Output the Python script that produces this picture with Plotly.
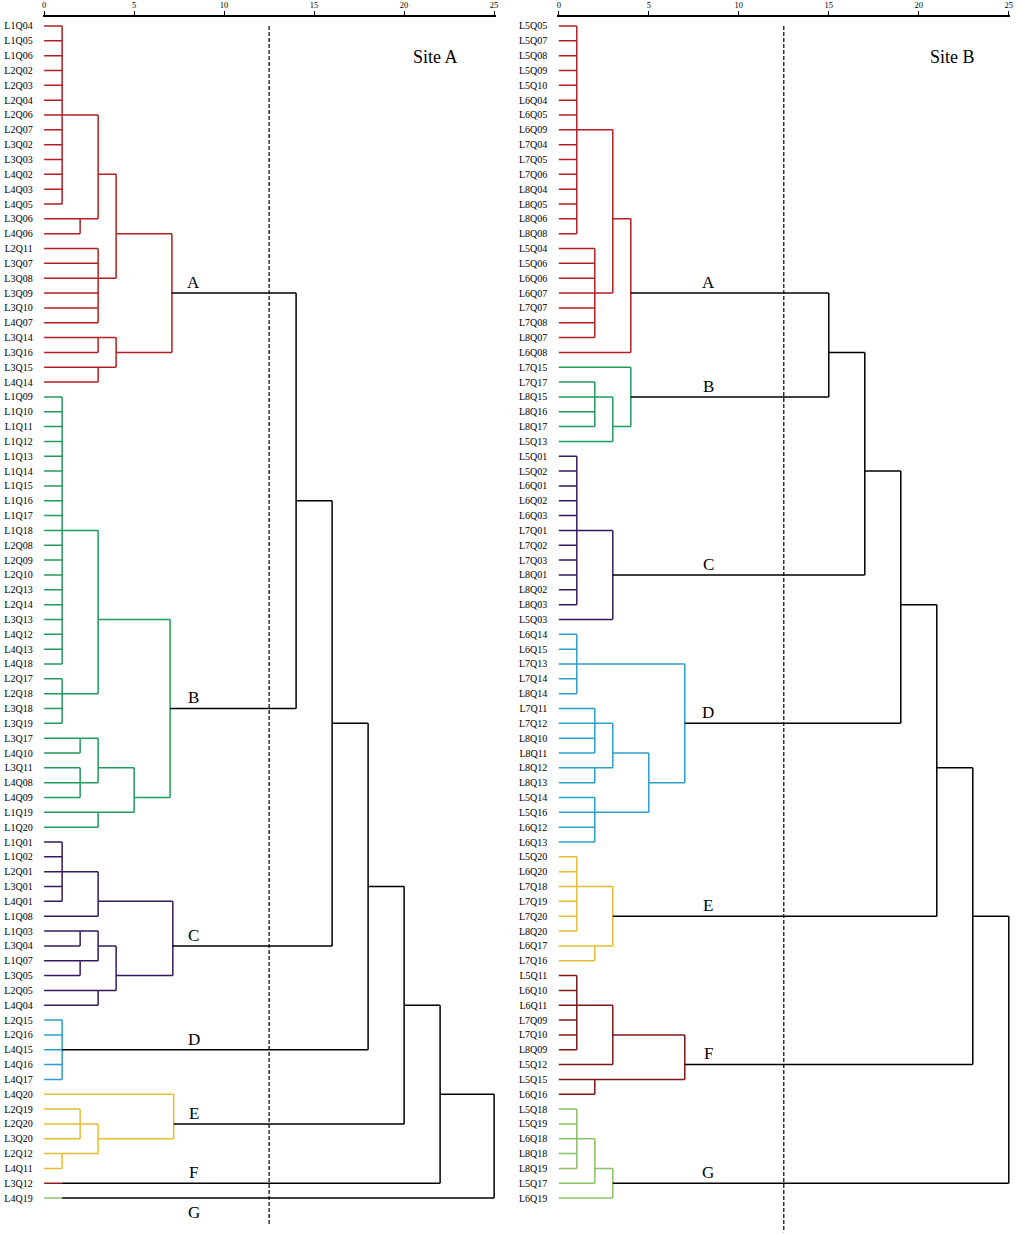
import plotly.graph_objects as go

SERIF = "Liberation Serif"

# ---------------- Site A data ----------------
siteA_leaves = [
    "L1Q04", "L1Q05", "L1Q06", "L2Q02", "L2Q03", "L2Q04", "L2Q06", "L2Q07", "L3Q02", "L3Q03",
    "L4Q02", "L4Q03", "L4Q05", "L3Q06", "L4Q06", "L2Q11", "L3Q07", "L3Q08", "L3Q09", "L3Q10",
    "L4Q07", "L3Q14", "L3Q16", "L3Q15", "L4Q14",
    "L1Q09", "L1Q10", "L1Q11", "L1Q12", "L1Q13", "L1Q14", "L1Q15", "L1Q16", "L1Q17", "L1Q18",
    "L2Q08", "L2Q09", "L2Q10", "L2Q13", "L2Q14", "L3Q13", "L4Q12", "L4Q13", "L4Q18", "L2Q17",
    "L2Q18", "L3Q18", "L3Q19", "L3Q17", "L4Q10", "L3Q11", "L4Q08", "L4Q09", "L1Q19", "L1Q20",
    "L1Q01", "L1Q02", "L2Q01", "L3Q01", "L4Q01", "L1Q08", "L1Q03", "L3Q04", "L1Q07", "L3Q05",
    "L2Q05", "L4Q04",
    "L2Q15", "L2Q16", "L4Q15", "L4Q16", "L4Q17",
    "L4Q20", "L2Q19", "L2Q20", "L3Q20", "L2Q12", "L4Q11",
    "L3Q12", "L4Q19",
]

siteA_nodes = ["a1", "a2", "a3", "a4", "a5", "a6", "a7", "a8", "A",
               "b1", "b2", "b3", "b4", "b5", "b6", "b7", "b8", "B",
               "c1", "c2", "c3", "c4", "c5", "c6", "c7", "C",
               "D", "e2", "e3", "e4", "E", "F", "G",
               "AB", "ABC", "ABCD", "ABCDE", "ABCDEF", "ALL"]

siteA_children = [
    ["L1Q04", "L1Q05", "L1Q06", "L2Q02", "L2Q03", "L2Q04", "L2Q06", "L2Q07", "L3Q02", "L3Q03", "L4Q02", "L4Q03", "L4Q05"],
    ["L3Q06", "L4Q06"],
    ["a1", "a2"],
    ["L2Q11", "L3Q07", "L3Q08", "L3Q09", "L3Q10", "L4Q07"],
    ["a3", "a4"],
    ["L3Q14", "L3Q16"],
    ["L3Q15", "L4Q14"],
    ["a6", "a7"],
    ["a5", "a8"],
    ["L1Q09", "L1Q10", "L1Q11", "L1Q12", "L1Q13", "L1Q14", "L1Q15", "L1Q16", "L1Q17", "L1Q18",
     "L2Q08", "L2Q09", "L2Q10", "L2Q13", "L2Q14", "L3Q13", "L4Q12", "L4Q13", "L4Q18"],
    ["L2Q17", "L2Q18", "L3Q18", "L3Q19"],
    ["b1", "b2"],
    ["L3Q17", "L4Q10"],
    ["L3Q11", "L4Q08", "L4Q09"],
    ["b4", "b5"],
    ["L1Q19", "L1Q20"],
    ["b6", "b7"],
    ["b3", "b8"],
    ["L1Q01", "L1Q02", "L2Q01", "L3Q01", "L4Q01"],
    ["c1", "L1Q08"],
    ["L1Q03", "L3Q04"],
    ["L1Q07", "L3Q05"],
    ["c3", "c4"],
    ["L2Q05", "L4Q04"],
    ["c5", "c6"],
    ["c2", "c7"],
    ["L2Q15", "L2Q16", "L4Q15", "L4Q16", "L4Q17"],
    ["L2Q19", "L2Q20", "L3Q20"],
    ["L2Q12", "L4Q11"],
    ["e2", "e3"],
    ["L4Q20", "e4"],
    ["L3Q12"],
    ["L4Q19"],
    ["A", "B"],
    ["AB", "C"],
    ["ABC", "D"],
    ["ABCD", "E"],
    ["ABCDE", "F"],
    ["ABCDEF", "G"],
]

siteA_heights = [1.0, 2.0, 3.0, 3.0, 4.0, 3.0, 3.0, 4.0, 7.1,
                 1.0, 1.0, 3.0, 2.0, 2.0, 3.0, 3.0, 5.0, 7.0,
                 1.0, 3.0, 2.0, 2.0, 3.0, 3.0, 4.0, 7.15,
                 1.0, 2.0, 1.0, 3.0, 7.2, 1.0, 1.0,
                 14.0, 16.0, 18.0, 20.0, 22.0, 25.0]

# ---------------- Site B data ----------------
siteB_leaves = [
    "L5Q05", "L5Q07", "L5Q08", "L5Q09", "L5Q10", "L6Q04", "L6Q05", "L6Q09", "L7Q04", "L7Q05",
    "L7Q06", "L8Q04", "L8Q05", "L8Q06", "L8Q08", "L5Q04", "L5Q06", "L6Q06", "L6Q07", "L7Q07",
    "L7Q08", "L8Q07", "L6Q08",
    "L7Q15", "L7Q17", "L8Q15", "L8Q16", "L8Q17", "L5Q13",
    "L5Q01", "L5Q02", "L6Q01", "L6Q02", "L6Q03", "L7Q01", "L7Q02", "L7Q03", "L8Q01", "L8Q02",
    "L8Q03", "L5Q03",
    "L6Q14", "L6Q15", "L7Q13", "L7Q14", "L8Q14", "L7Q11", "L7Q12", "L8Q10", "L8Q11", "L8Q12",
    "L8Q13", "L5Q14", "L5Q16", "L6Q12", "L6Q13",
    "L5Q20", "L6Q20", "L7Q18", "L7Q19", "L7Q20", "L8Q20", "L6Q17", "L7Q16",
    "L5Q11", "L6Q10", "L6Q11", "L7Q09", "L7Q10", "L8Q09", "L5Q12", "L5Q15", "L6Q16",
    "L5Q18", "L5Q19", "L6Q18", "L8Q18", "L8Q19", "L5Q17", "L6Q19",
]

siteB_nodes = ["ba1", "ba2", "ba3", "A",
               "bb1", "bb2", "B",
               "bc1", "C",
               "bd1", "bd2", "bd3", "bd4", "bd5", "bd6", "D",
               "be1", "be2", "E",
               "bf1", "bf2", "bf3", "F",
               "bg1", "bg2", "G",
               "AB", "ABC", "ABCD", "ABCDE", "ABCDEF", "ALL"]

siteB_children = [
    ["L5Q05", "L5Q07", "L5Q08", "L5Q09", "L5Q10", "L6Q04", "L6Q05", "L6Q09", "L7Q04", "L7Q05",
     "L7Q06", "L8Q04", "L8Q05", "L8Q06", "L8Q08"],
    ["L5Q04", "L5Q06", "L6Q06", "L6Q07", "L7Q07", "L7Q08", "L8Q07"],
    ["ba1", "ba2"],
    ["ba3", "L6Q08"],
    ["L7Q17", "L8Q15", "L8Q16", "L8Q17"],
    ["bb1", "L5Q13"],
    ["L7Q15", "bb2"],
    ["L5Q01", "L5Q02", "L6Q01", "L6Q02", "L6Q03", "L7Q01", "L7Q02", "L7Q03", "L8Q01", "L8Q02", "L8Q03"],
    ["bc1", "L5Q03"],
    ["L6Q14", "L6Q15", "L7Q13", "L7Q14", "L8Q14"],
    ["L7Q11", "L7Q12", "L8Q10", "L8Q11"],
    ["L8Q12", "L8Q13"],
    ["bd2", "bd3"],
    ["L5Q14", "L5Q16", "L6Q12", "L6Q13"],
    ["bd4", "bd5"],
    ["bd1", "bd6"],
    ["L5Q20", "L6Q20", "L7Q18", "L7Q19", "L7Q20", "L8Q20"],
    ["L6Q17", "L7Q16"],
    ["be1", "be2"],
    ["L5Q11", "L6Q10", "L6Q11", "L7Q09", "L7Q10", "L8Q09"],
    ["bf1", "L5Q12"],
    ["L5Q15", "L6Q16"],
    ["bf2", "bf3"],
    ["L5Q18", "L5Q19", "L6Q18", "L8Q18", "L8Q19"],
    ["bg1", "L5Q17"],
    ["bg2", "L6Q19"],
    ["A", "B"],
    ["AB", "C"],
    ["ABC", "D"],
    ["ABCD", "E"],
    ["ABCDE", "F"],
    ["ABCDEF", "G"],
]

siteB_heights = [1.0, 2.0, 3.0, 4.0,
                 2.0, 3.0, 4.0,
                 1.0, 3.0,
                 1.0, 2.0, 2.0, 3.0, 2.0, 5.0, 7.0,
                 1.0, 2.0, 3.0,
                 1.0, 3.0, 2.0, 7.0,
                 1.0, 2.0, 3.0,
                 15.0, 17.0, 19.0, 21.0, 23.0, 25.0]

groups = ["A", "B", "C", "D", "E", "F", "G"]
siteA_colors = ["#B11E23", "#1F9A5B", "#35195F", "#2B9FC9", "#E6BD33", "#8E1A1C", "#8CC063"]
siteB_colors = ["#B11E23", "#1F9A5B", "#35195F", "#2B9FC9", "#E6BD33", "#7E1416", "#8CC063"]

cut_level = 12.5
axis_ticks = [0, 5, 10, 15, 20, 25]


def build(leaves, nodes, children, heights, colors):
    row = {l: i for i, l in enumerate(leaves)}
    h = {l: 0.0 for l in leaves}
    stem = dict(row)
    kids = dict(zip(nodes, children))
    color = {}

    def paint(n, c):
        if n in kids:
            color[n] = c
            for k in kids[n]:
                paint(k, c)

    for g, c in zip(groups, colors):
        paint(g, c)

    segs = {}
    for n, ch, hh in zip(nodes, children, heights):
        h[n] = hh
        ss = [stem[c] for c in ch]
        lo, hi = min(ss), max(ss)
        tot = lo + hi
        leaf_only = all(c in row for c in ch)
        stem[n] = tot // 2 if (tot % 2 == 0 or leaf_only) else tot // 2 + 1
        col = color.get(n, "#000000")
        xs, ys = segs.setdefault(col, ([], []))
        for c in ch:
            xs += [h[c], hh, None]
            ys += [stem[c], stem[c], None]
        if hi > lo:
            xs += [hh, hh, None]
            ys += [lo, hi, None]
    return segs, stem


W, H = 1021, 1236
TOP = 13
ROW0_PX, ROW_PX = 22.0, 14.886
PPU = 18.07
PAD = 0.08
y_top = -(ROW0_PX - TOP) / ROW_PX
y_bot = y_top + (H - TOP) / ROW_PX

fig = go.Figure()
sites = [
    ("Site A", siteA_leaves, siteA_nodes, siteA_children, siteA_heights, siteA_colors, 43.3, "", 80.8, {"G"}, 21.75),
    ("Site B", siteB_leaves, siteB_nodes, siteB_children, siteB_heights, siteB_colors, 560.0, "2", 81.3, set(), 21.9),
]

annotations = []
shapes = []
layout_axes = {}
for idx, (title, leaves, nodes, children, heights, colors, x0px, sfx, dash_end, below, title_x) in enumerate(sites):
    segs, stem = build(leaves, nodes, children, heights, colors)
    xa, ya = "x" + sfx, "y" + sfx
    order = [c for c in segs if c != "#000000"] + ["#000000"]
    for col in order:
        xs, ys = segs[col]
        fig.add_trace(go.Scatter(x=xs, y=ys, mode="lines", xaxis=xa, yaxis=ya,
                                 line=dict(color=col, width=1.5), hoverinfo="skip"))
    dom = [(x0px - PAD * PPU) / W, (x0px + (25 + PAD) * PPU) / W]
    xkey = "xaxis" + sfx
    ykey = "yaxis" + sfx
    layout_axes[xkey] = dict(domain=dom, range=[-PAD, 25 + PAD], side="top", anchor=ya,
                             tickmode="array", tickvals=axis_ticks, ticks="outside", ticklen=4,
                             tickwidth=1.3, tickcolor="black", showline=True, linecolor="black",
                             linewidth=1.6, showgrid=False, zeroline=False,
                             tickfont=dict(size=8.5, family=SERIF, color="black"))
    ovk = "xaxis" + str(3 + idx)
    layout_axes[ovk] = dict(domain=dom, range=[-PAD, 25 + PAD], side="top", anchor=ya,
                            overlaying=xa, tickmode="array", tickvals=axis_ticks, ticks="inside",
                            ticklen=4, tickwidth=1.3, tickcolor="black", showticklabels=False,
                            showline=False, showgrid=False, zeroline=False)
    layout_axes[ykey] = dict(domain=[0, 1], range=[y_bot, y_top], anchor=xa,
                             tickmode="array", tickvals=list(range(len(leaves))), ticktext=leaves,
                             ticks="", showline=False, showgrid=False, zeroline=False,
                             ticklabelstandoff=9,
                             tickfont=dict(size=10, family=SERIF, color="black"))
    shapes.append(dict(type="line", xref=xa, yref=ya, x0=cut_level, x1=cut_level, y0=0, y1=dash_end,
                       line=dict(color="black", width=1.2, dash="4px,2px")))
    for g in groups:
        off = 1.0 if g in below else -0.72
        annotations.append(dict(x=8.3, y=stem[g] + off, xref=xa, yref=ya, text=g, showarrow=False,
                                xanchor="center", yanchor="middle",
                                font=dict(size=17, family=SERIF, color="black")))
    annotations.append(dict(x=title_x, y=2.1, xref=xa, yref=ya, text=title, showarrow=False,
                            xanchor="center", yanchor="middle",
                            font=dict(size=18, family=SERIF, color="black")))

fig.update_layout(width=W, height=H, margin=dict(l=0, r=0, t=TOP, b=0),
                  paper_bgcolor="white", plot_bgcolor="white", showlegend=False,
                  font=dict(family=SERIF, color="black"),
                  annotations=annotations, shapes=shapes, **layout_axes)

fig.write_html("out.html",
               config={"displayModeBar": False},
               post_script="document.body.style.margin='0px';document.body.style.padding='0px';"
                           "document.body.style.overflow='hidden';")
